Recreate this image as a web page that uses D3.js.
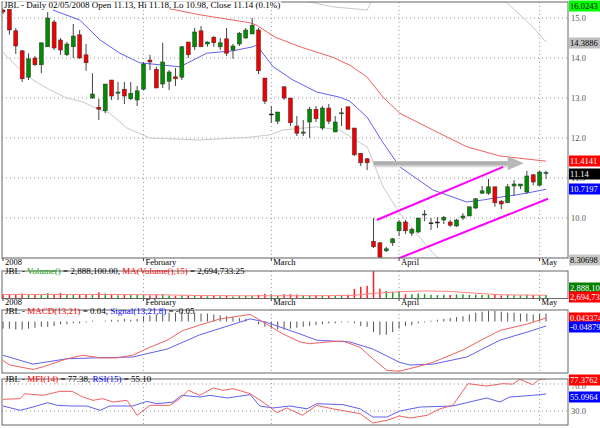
<!DOCTYPE html>
<html><head><meta charset="utf-8">
<script src="https://cdn.jsdelivr.net/npm/d3@7"></script>
<style>body{margin:0;background:#fff}svg{display:block}text{font-family:"Liberation Serif","DejaVu Serif",serif}</style>
</head><body><svg id="c" width="600" height="428"></svg>
<script>
// ---- data ----
const opens  = [15.2,15.22,14.68,14.18,13.52,14.0,13.83,14.28,14.9,14.45,14.08,14.28,14.58,14.08,13.0,12.77,12.68,13.45,13.12,13.22,12.98,12.95,13.22,13.95,13.72,13.35,13.42,13.53,13.52,14.4,14.28,14.68,14.35,14.52,14.28,14.48,14.2,14.35,14.5,14.6,14.7,13.5,12.6,12.42,13.28,13.0,12.3,12.12,12.4,12.72,12.25,12.75,12.15,12.62,12.78,12.25,11.62,11.48,9.42,9.38,9.18,9.38,9.68,9.9,9.62,9.65,10.08,9.88,9.9,9.95,9.9,9.8,10.0,10.05,10.25,10.62,10.62,10.78,10.42,10.38,10.8,10.8,10.65,11.08,10.82,11.13];
const highs  = [15.25,15.22,14.75,14.2,14.12,14.05,14.38,15.15,14.95,14.5,14.4,14.85,14.7,14.35,13.62,12.98,13.35,13.45,13.4,13.4,13.4,13.3,13.9,14.08,13.78,14.38,13.7,13.75,14.3,14.4,14.75,14.8,14.42,14.55,14.5,14.75,14.35,14.65,14.75,15.0,14.75,13.5,12.8,12.65,13.3,13.0,12.55,12.45,12.78,12.8,12.8,12.85,12.55,12.75,12.78,12.25,11.62,11.5,10.0,9.4,9.28,9.5,9.95,9.95,9.75,10.0,10.2,10.0,10.02,10.05,9.95,9.98,10.12,10.28,10.5,10.8,10.98,10.78,10.45,10.85,10.95,10.85,11.18,11.1,11.18,11.18];
const lows   = [15.1,14.58,14.1,13.4,13.45,13.8,13.62,14.28,14.2,14.08,14.05,14.0,13.98,13.68,12.98,12.45,12.62,12.95,12.95,12.85,12.95,12.8,13.2,13.7,13.25,13.25,13.2,13.3,13.45,14.0,14.2,14.28,14.28,14.28,14.2,14.05,13.98,14.3,14.48,14.6,13.6,12.85,12.38,12.35,12.95,12.3,12.05,12.05,12.0,12.4,12.2,12.35,12.15,12.3,12.22,11.55,11.3,11.2,9.25,9.0,9.15,9.3,9.55,9.6,9.55,9.62,9.92,9.7,9.75,9.85,9.78,9.78,9.95,10.05,10.22,10.6,10.58,10.28,10.22,10.38,10.55,10.72,10.6,10.82,10.8,10.98];
const closes = [15.15,14.7,14.3,13.48,13.98,13.83,14.38,15.0,14.25,14.2,14.35,14.55,14.0,13.88,13.1,12.72,13.35,13.05,13.15,13.05,13.12,13.18,13.85,13.9,13.25,13.9,13.65,13.48,14.28,14.08,14.65,14.28,14.4,14.38,14.38,14.12,14.3,14.62,14.7,14.82,13.68,12.92,12.6,12.65,13.0,12.38,12.12,12.15,12.72,12.48,12.75,12.42,12.4,12.63,12.22,11.58,11.38,11.38,9.28,9.02,9.23,9.48,9.9,9.68,9.72,10.0,10.1,9.88,9.9,10.02,9.82,9.95,10.05,10.28,10.48,10.68,10.78,10.38,10.35,10.78,10.85,10.85,11.05,10.9,11.15,11.14];
const volumes = [3.2,3.5,3.0,4.0,3.2,2.8,3.1,4.5,3.0,4.6,3.3,3.0,3.6,3.2,3.0,5.2,4.0,3.5,2.6,3.0,2.8,3.1,
  3.0,2.6,2.9,3.4,2.5,2.0,2.6,2.4,2.8,2.2,1.8,2.0,1.9,2.2,1.7,1.9,2.1,2.3,3.0,3.8,3.5,
  2.2,3.4,3.6,3.2,2.4,2.6,2.9,2.5,2.2,2.3,2.6,3.0,
  7.9,9.6,10.4,22.9,7.9,6.2,5.4,6.2,
  3.6,3.4,4.0,3.8,3.0,2.8,3.1,2.9,3.3,3.5,3.0,3.2,2.8,3.0,3.6,2.6,3.2,2.7,2.5,3.0,2.6,2.9,2.89];
const volMA = [[0,3.3],[15,3.3],[25,3.0],[31,2.4],[40,2.2],[50,2.3],[55,2.6],[58,4.2],[62,5.5],[66,6.2],[70,5.8],[75,4.0],[78,3.0],[85,2.7]];
const ma20 = [[7.8,15.2],[12,14.95],[15.2,14.45],[18.3,14.12],[21.4,13.88],[27.7,13.78],[31.9,14.12],[36,14.18],[39.1,14.28],[39.7,14.32],[42.3,13.78],[45.4,13.45],[49.1,13.15],[52.7,13.02],[54.3,12.92],[57,12.52],[59.5,11.88],[62.1,11.28],[67.3,10.7],[72.6,10.4],[75.1,10.45],[77.8,10.52],[80.4,10.58],[82.9,10.65],[85,10.72]];
const ma50 = [[23.5,15.32],[24.6,15.28],[30.8,15.08],[38.7,14.88],[39.7,14.82],[42.6,14.52],[46.5,14.28],[51.6,14.02],[54.3,13.82],[57,13.52],[59.5,13.02],[62.1,12.62],[67.3,12.2],[72.6,11.78],[77.8,11.55],[85,11.42]];
const bbLower = [[0,14.15],[2.2,13.78],[4.7,13.45],[7.4,13.2],[10,13.0],[12.5,12.9],[14.1,12.78],[16.7,12.62],[19.4,12.25],[23,12.0],[30.8,11.95],[38.7,12.02],[41.8,12.08],[43.8,12.2],[49.1,12.28],[52.7,12.2],[55.9,11.88],[57,11.78],[59.5,10.78],[62.1,10.12],[67.3,9.12],[68.9,8.9]];
const bbUpper = [[43.5,15.5],[46.5,15.45],[51.6,15.28],[57,15.2],[57.4,15.33],[58,15.5]];
const bbUpper2 = [[78,15.5],[78.9,15.38],[82.9,14.78],[85,14.4]];
const channelUp = [[58.5,9.95],[78.3,11.28]];
const channelLow = [[61.3,8.95],[85.3,10.48]];
const arrowPts = [[58,11.37],[79,11.37],[81.5,11.37]];
const macd = [[0,-0.44],[1.1,-0.49],[4.7,-0.54],[6.3,-0.51],[10,-0.42],[12.5,-0.38],[15.2,-0.41],[17.8,-0.41],[20.3,-0.38],[23,-0.29],[25.7,-0.21],[28.2,-0.10],[30.8,-0.04],[34,0.03],[38.7,0.08],[41.3,-0.03],[43.8,-0.14],[46.5,-0.23],[48,-0.25],[50.7,-0.23],[53.2,-0.22],[55.9,-0.29],[57.9,-0.42],[60.1,-0.55],[62.1,-0.56],[64.8,-0.51],[67.3,-0.46],[72,-0.32],[75.1,-0.20],[77.8,-0.10],[82,-0.03],[85,0.04]];
const signal = [[0,-0.38],[4.7,-0.48],[10,-0.42],[14.1,-0.41],[20.3,-0.40],[25.7,-0.31],[30.8,-0.15],[38.7,0.03],[41.3,-0.01],[46.5,-0.14],[49.1,-0.21],[54.3,-0.23],[57.9,-0.31],[62.1,-0.46],[63.7,-0.49],[67.3,-0.48],[72.6,-0.40],[77.8,-0.21],[82.9,-0.10],[85,-0.05]];
const hist = [-0.08,-0.08,-0.09,-0.09,-0.08,-0.07,-0.06,-0.06,-0.05,-0.03,-0.03,-0.02,-0.02,-0.01,0.01,0.0,
  0.01,0.02,0.02,0.03,0.02,0.03,0.06,0.07,0.08,0.09,0.1,0.1,0.11,0.1,0.1,0.09,
  0.09,0.08,0.07,0.06,0.05,0.04,0.03,0.0,-0.03,-0.06,-0.08,-0.09,-0.09,-0.08,-0.07,
  -0.06,-0.05,-0.04,-0.03,-0.02,-0.02,-0.01,-0.01,-0.02,-0.05,-0.06,-0.12,-0.15,-0.15,-0.12,-0.08,
  -0.05,-0.04,-0.02,-0.01,0.01,0.02,0.03,0.04,0.05,0.06,0.08,0.1,0.11,0.12,0.12,0.11,0.1,0.1,
  0.09,0.09,0.08,0.09,0.09];
const mfi = [[0,47.3],[2.7,48.3],[3.4,55.6],[6.3,53.2],[8.9,59.1],[10.8,59.1],[12.5,50.7],[14.1,45.8],[15.6,48.3],[17.2,43.3],[19.4,45.8],[21,23.6],[23,38.4],[26.1,38.4],[27.7,48.3],[29,60.6],[30.8,53.2],[32.9,64.1],[34.4,60.6],[36,63.1],[38.7,55.6],[40.7,43.3],[42.9,27.6],[44.4,34.5],[46.9,23.6],[49.1,38.4],[51.6,33.3],[53.8,29.5],[55.9,26.1],[57.9,12.2],[60.1,16.2],[62.1,22.6],[63.7,19.6],[66.4,23.6],[68.4,33.3],[70.4,38.4],[72.8,70.5],[75.7,67.0],[78.2,70.5],[79.8,69.8],[80.9,77.0],[82.9,69.0],[84,77.0],[85,77.38]];
const rsi = [[0,37.4],[2.7,31.0],[4.7,35.9],[7,42.3],[8.5,38.4],[10.8,37.4],[13.1,37.4],[15.2,31.0],[16.7,37.4],[20.3,37.4],[22.5,44.3],[24.1,40.8],[26.6,43.3],[28,53.2],[30.8,50.7],[32.4,53.2],[35.1,49.3],[38.7,54.2],[40.2,37.4],[42.3,34.5],[44.9,37.4],[47.6,33.3],[49.1,40.8],[53.2,39.4],[55.9,33.3],[57.9,21.1],[60.1,21.1],[62.1,30.0],[65.3,35.9],[70.4,37.4],[75.7,49.3],[77.8,43.3],[79.3,50.7],[82.9,53.2],[85,55.1]];
const monthIdx = [0,22,42,62,84];
const monthLabels = ["2008","February","March","April","May"];
const priceTicks = [9,10,11,12,13,14,15];

// ---- drawing ----
const svg = d3.select("#c");
const L=2, R=568;
const x = d3.scaleLinear().domain([0,85]).range([3,546]);
const y = d3.scaleLinear().domain([9,15]).range([258,18]);
const yv = d3.scaleLinear().domain([0,22.5]).range([298.5,271]);
const ym = d3.scaleLinear().domain([-0.58,0.13]).range([373,310]);
const yo = d3.scaleLinear().domain([30,70]).range([411,384]);
const fs=9;

function panel(top,bot){
  const g=svg.append("g");
  monthIdx.forEach(i=>{ if(i>0) g.append("line").attr("x1",x(i)).attr("x2",x(i)).attr("y1",top).attr("y2",bot).attr("stroke","#999").attr("stroke-dasharray","1,3");});
  return g;
}
function clip(id,top,bot){ svg.append("clipPath").attr("id",id).append("rect").attr("x",L).attr("y",top).attr("width",R-L).attr("height",bot-top); }
function line(g,data,sx,sy,color,w){ g.append("path").datum(data).attr("d",d3.line().x(d=>sx(d[0])).y(d=>sy(d[1]))).attr("fill","none").attr("stroke",color).attr("stroke-width",w||1); }
function tag(yy,txt,bg,fg){ const g=svg.append("g"); g.append("rect").attr("x",R+1).attr("y",yy-5.5).attr("width",31).attr("height",11).attr("fill",bg); g.append("text").attr("x",R+2).attr("y",yy+3).attr("font-size",8.5).attr("fill",fg).text(txt); }
function title(tx,ty,parts){ const t=svg.append("text").attr("x",tx).attr("y",ty).attr("font-size",fs); parts.forEach(p=>t.append("tspan").attr("fill",p[1]).text(p[0])); return t; }
function whiteBehind(t){ const b=t.node().getBBox(); svg.insert("rect","text").attr("x",b.x-1).attr("y",b.y+1.5).attr("width",b.width+2).attr("height",b.height-2.5).attr("fill","#fff"); }

// main panel
clip("cm",2,258);
const gm = panel(2,258).attr("clip-path","url(#cm)");
priceTicks.forEach(p=>gm.append("line").attr("x1",L).attr("x2",R).attr("y1",y(p)).attr("y2",y(p)).attr("stroke","#999").attr("stroke-dasharray","1,3"));
line(gm,bbLower,x,y,"#c8c8c8");
line(gm,bbUpper,x,y,"#c8c8c8");
line(gm,bbUpper2,x,y,"#c8c8c8");
line(gm,ma50,x,y,"#f06060");
line(gm,ma20,x,y,"#6060f0");
gm.append("path").datum(arrowPts).attr("d",d=>`M${x(d[0][0])},${y(d[0][1])+1}L${x(d[1][0])},${y(d[1][1])+1}`).attr("stroke","#d8d8d8").attr("stroke-width",6);
gm.append("path").datum(arrowPts).attr("d",d=>`M${x(d[0][0])},${y(d[0][1])}L${x(d[1][0])},${y(d[1][1])}`).attr("stroke","#b0b0b0").attr("stroke-width",4);
gm.append("path").datum(arrowPts).attr("d",d=>`M${x(d[1][0])},${y(d[1][1])-7}L${x(d[2][0])},${y(d[2][1])}L${x(d[1][0])},${y(d[1][1])+7}Z`).attr("fill","#b8b8b8");
line(gm,channelUp,x,y,"#ff00ff",2);
line(gm,channelLow,x,y,"#ff00ff",2);
const bars = opens.map((o,i)=>({i,o,h:highs[i],l:lows[i],c:closes[i],v:volumes[i],h2:hist[i]}));
gm.selectAll(".w").data(bars).enter().append("line").attr("x1",d=>x(d.i)).attr("x2",d=>x(d.i)).attr("y1",d=>y(d.h)).attr("y2",d=>y(d.l)).attr("stroke","#444");
gm.selectAll(".b").data(bars).enter().append("rect").attr("x",d=>x(d.i)-2).attr("width",4)
  .attr("y",d=>y(Math.max(d.o,d.c))).attr("height",d=>Math.max(1,Math.abs(y(d.o)-y(d.c))))
  .attr("fill",d=>d.c>d.o?"#008c00":(Math.abs(d.c-d.o)<0.02?"#000":"#f00000")).attr("stroke","#333").attr("stroke-width",0.5);
svg.append("rect").attr("x",L).attr("y",2).attr("width",R-L).attr("height",256).attr("fill","none").attr("stroke","#666");
const mt=title(4,8,[["JBL - Daily 02/05/2008 Open 11.13, Hi 11.18, Lo 10.98, Close 11.14 (0.1%)","#000"]]);
whiteBehind(mt);
priceTicks.forEach(p=>svg.append("text").attr("x",R+3).attr("y",y(p)+3).attr("font-size",8.5).attr("fill","#555").text(p.toFixed(1)));
tag(6,"16.0243","#00ff00","#000");
tag(43,"14.3886","#c0c0c0","#000");
tag(161,"11.4141","#ff0000","#fff");
tag(174,"11.14","#000","#fff");
tag(189,"10.7197","#0000ff","#fff");
tag(260,"8.30698","#c8c8c8","#000");
function months(yy){ monthIdx.forEach((i,k)=>{ svg.append("line").attr("x1",x(i)).attr("x2",x(i)).attr("y1",yy-7).attr("y2",yy-4).attr("stroke","#444"); svg.append("text").attr("x",x(i)+2).attr("y",yy).attr("font-size",8.5).text(monthLabels[k]); }); }
months(265);
months(305);

// volume panel
clip("cv",271,299);
const gv = panel(271,299).attr("clip-path","url(#cv)");
gv.selectAll(".v").data(bars).enter().append("line").attr("x1",d=>x(d.i)).attr("x2",d=>x(d.i)).attr("y1",yv(0)).attr("y2",d=>yv(d.v))
  .attr("stroke",d=>d.c>=d.o?"#22a022":"#ff2020").attr("stroke-width",1.5);
line(gv,volMA,x,yv,"#ff8080");
svg.append("rect").attr("x",L).attr("y",271).attr("width",R-L).attr("height",27.5).attr("fill","none").attr("stroke","#666");
let t=title(5,274,[["JBL - ","#000"],["Volume()","#00a000"],[" = 2,888,100.00, ","#000"],["MA(Volume(),15)","#ff0000"],[" = 2,694,733.25","#000"]]);
whiteBehind(t);
tag(288,"2,888,100","#008000","#fff");
tag(297,"2,694,733","#ff0000","#fff");

// MACD panel
clip("cd",310,373);
const gd = panel(310,373).attr("clip-path","url(#cd)");
gd.selectAll(".h").data(bars).enter().append("line").attr("x1",d=>x(d.i)).attr("x2",d=>x(d.i)).attr("y1",ym(0)).attr("y2",d=>ym(d.h2)).attr("stroke","#555");
line(gd,signal,x,ym,"#6060f0");
line(gd,macd,x,ym,"#f06060");
svg.append("rect").attr("x",L).attr("y",310).attr("width",R-L).attr("height",63).attr("fill","none").attr("stroke","#666");
t=title(5,313.5,[["JBL - ","#000"],["MACD(13,21)","#ff0000"],[" = 0.04, ","#000"],["Signal(13,21,8)","#0000ff"],[" = -0.05","#000"]]);
whiteBehind(t);
tag(318,"0.043374","#ff0000","#fff");
tag(327,"-0.048799","#0000ff","#fff");

// MFI/RSI panel
clip("co",379,425);
const go = panel(379,425).attr("clip-path","url(#co)");
[70,30].forEach(v=>go.append("line").attr("x1",L).attr("x2",R).attr("y1",yo(v)).attr("y2",yo(v)).attr("stroke","#999").attr("stroke-dasharray","1,3"));
line(go,rsi,x,yo,"#6060f0");
line(go,mfi,x,yo,"#f06060");
svg.append("rect").attr("x",L).attr("y",379).attr("width",R-L).attr("height",46).attr("fill","none").attr("stroke","#666");
t=title(5,382,[["JBL - ","#000"],["MFI(14)","#ff0000"],[" = 77.38, ","#000"],["RSI(15)","#0000ff"],[" = 55.10","#000"]]);
whiteBehind(t);
svg.append("text").attr("x",R+3).attr("y",yo(70)+5).attr("font-size",8.5).attr("fill","#555").text("70.0");
svg.append("text").attr("x",R+3).attr("y",yo(30)+3).attr("font-size",8.5).attr("fill","#555").text("30.0");
tag(380,"77.3762","#ff0000","#fff");
tag(397,"55.0964","#0000ff","#fff");
</script></body></html>
